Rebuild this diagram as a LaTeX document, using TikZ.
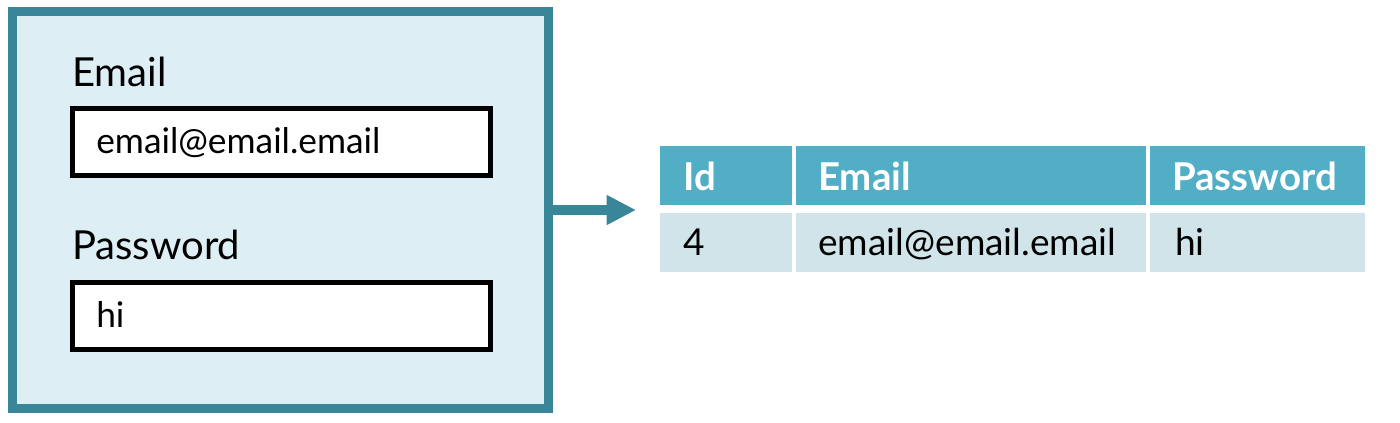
\documentclass[tikz,border=0pt]{standalone}
\usepackage{fontspec}
\setmainfont{Lato}
\usetikzlibrary{arrows.meta}
\definecolor{formborder}{HTML}{3A8699}
\definecolor{formfill}{HTML}{DDEFF4}
\definecolor{headfill}{HTML}{52AEC5}
\definecolor{rowfill}{HTML}{D1E4E9}
\tikzset{
  formbox/.style={draw=formborder, fill=formfill, line width=6.5pt, rectangle, anchor=north west, inner sep=0pt, outer sep=0pt},
  inputbox/.style={draw=black, fill=white, line width=3.75pt, rectangle, anchor=north west, inner sep=0pt, outer sep=0pt, minimum width=313.5pt, minimum height=50.25pt},
  lbl/.style={anchor=base west, inner sep=0pt, font=\fontsize{30}{36}\selectfont},
  inputtxt/.style={anchor=base west, inner sep=0pt, font=\fontsize{26.5}{32}\selectfont},
  headcell/.style={fill=headfill, rectangle, anchor=north west, inner sep=0pt, outer sep=0pt, minimum height=44.25pt},
  rowcell/.style={fill=rowfill, rectangle, anchor=north west, inner sep=0pt, outer sep=0pt, minimum height=44.25pt},
  headtxt/.style={anchor=base west, inner sep=0pt, text=white, font=\bfseries\fontsize{28.8}{34}\selectfont},
  rowtxt/.style={anchor=base west, inner sep=0pt, font=\fontsize{27.8}{33}\selectfont},
  flow/.style={draw=formborder, line width=7pt, -{Triangle[length=22pt, width=21pt]}}
}
\begin{document}
\begin{tikzpicture}[x=0.75pt, y=-0.75pt]
\useasboundingbox (0,0) rectangle (1400,422);
% form
\node[formbox, minimum width=402pt, minimum height=297.75pt] (form) at (12.5,11.5) {};
\node[lbl] (emaillbl) at (72,86) {Email};
\node[inputbox] (emailbox) at (72.5,108.5) {};
\node[inputtxt] (emailtxt) at (96,153) {email@email.email};
\node[lbl] (pwlbl) at (72,259) {Password};
\node[inputbox] (pwbox) at (72.5,282.5) {};
\node[inputtxt] (pwtxt) at (96,327) {hi};
% arrow
\coordinate (arrowend) at (636,210);
\draw[flow] (form.east) -- (arrowend);
% table
\node[headcell, minimum width=99pt] (hid) at (660,146) {};
\node[headcell, minimum width=262.5pt] (hemail) at (796,146) {};
\node[headcell, minimum width=161.25pt] (hpw) at (1150,146) {};
\node[rowcell, minimum width=99pt] (rid) at (660,213) {};
\node[rowcell, minimum width=262.5pt] (remail) at (796,213) {};
\node[rowcell, minimum width=161.25pt] (rpw) at (1150,213) {};
\node[headtxt] (tid) at (683,190) {Id};
\node[headtxt] (temail) at (818,190) {Email};
\node[headtxt] (tpw) at (1172,190) {Password};
\node[rowtxt] (vid) at (683,255) {4};
\node[rowtxt] (vemail) at (818,255) {email@email.email};
\node[rowtxt] (vpw) at (1175,255) {hi};
\end{tikzpicture}
\end{document}
